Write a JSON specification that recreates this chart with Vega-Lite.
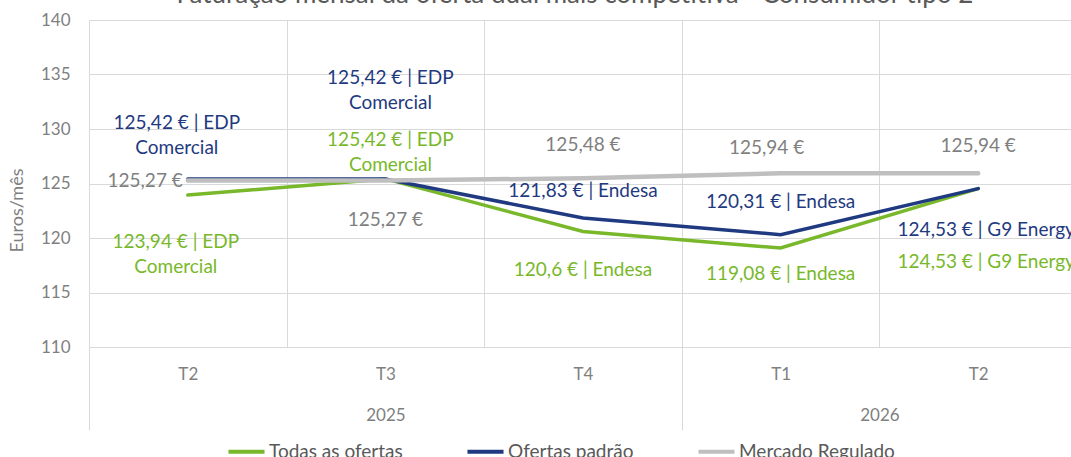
{
  "$schema": "https://vega.github.io/schema/vega-lite/v6.json",
  "width": 988,
  "height": 327,
  "autosize": {"type": "none"},
  "padding": {"left": 89, "top": 20, "right": -6, "bottom": 110},
  "title": {
    "text": "Faturação mensal da oferta dual mais competitiva - Consumidor tipo 2",
    "fontSize": 26, "font": "Lato", "fontWeight": "normal", "color": "#595959",
    "baseline": "alphabetic", "offset": 0, "anchor": "middle", "frame": "group", "dx": -8, "dy": 18
  },
  "config": {"view": {"stroke": null}, "font": "Lato"},
  "data": {
    "values": [
      {"period": "2025-T2", "series": "Todas as ofertas", "value": 123.94, "label": "123,94 € | EDP\nComercial"},
      {"period": "2025-T3", "series": "Todas as ofertas", "value": 125.42, "label": "125,42 € | EDP\nComercial"},
      {"period": "2025-T4", "series": "Todas as ofertas", "value": 120.6, "label": "120,6 € | Endesa"},
      {"period": "2026-T1", "series": "Todas as ofertas", "value": 119.08, "label": "119,08 € | Endesa"},
      {"period": "2026-T2", "series": "Todas as ofertas", "value": 124.53, "label": "124,53 € | G9 Energy"},
      {"period": "2025-T2", "series": "Ofertas padrão", "value": 125.42, "label": "125,42 € | EDP\nComercial"},
      {"period": "2025-T3", "series": "Ofertas padrão", "value": 125.42, "label": "125,42 € | EDP\nComercial"},
      {"period": "2025-T4", "series": "Ofertas padrão", "value": 121.83, "label": "121,83 € | Endesa"},
      {"period": "2026-T1", "series": "Ofertas padrão", "value": 120.31, "label": "120,31 € | Endesa"},
      {"period": "2026-T2", "series": "Ofertas padrão", "value": 124.53, "label": "124,53 € | G9 Energy"},
      {"period": "2025-T2", "series": "Mercado Regulado", "value": 125.27, "label": "125,27 €"},
      {"period": "2025-T3", "series": "Mercado Regulado", "value": 125.27, "label": "125,27 €"},
      {"period": "2025-T4", "series": "Mercado Regulado", "value": 125.48, "label": "125,48 €"},
      {"period": "2026-T1", "series": "Mercado Regulado", "value": 125.94, "label": "125,94 €"},
      {"period": "2026-T2", "series": "Mercado Regulado", "value": 125.94, "label": "125,94 €"}
    ]
  },
  "layer": [
    {
      "encoding": {
        "x": {
          "field": "period", "type": "ordinal", "bandPosition": 0.5,
          "scale": {"type": "band", "paddingInner": 0, "paddingOuter": 0},
          "axis": {
            "orient": "bottom", "title": null, "labelExpr": "substring(datum.label, 5)", "labelAngle": 0,
            "ticks": false, "domain": false, "grid": true, "tickBand": "extent",
            "gridColor": "#D9D9D9", "gridWidth": 1,
            "labelFontSize": 17, "labelColor": "#7F7F7F", "labelFont": "Lato", "labelPadding": 19
          }
        },
        "y": {
          "field": "value", "type": "quantitative",
          "scale": {"domain": [110, 140], "nice": false, "zero": false},
          "axis": {
            "values": [110, 115, 120, 125, 130, 135, 140],
            "title": "Euros/mês", "titleFont": "Lato", "titleFontSize": 18, "titleFontWeight": "normal",
            "titleColor": "#7F7F7F", "titleX": -63, "titleY": 190, "titleBaseline": "bottom",
            "ticks": false, "domain": false, "grid": true, "gridColor": "#D9D9D9", "gridWidth": 1,
            "labelFontSize": 17, "labelColor": "#7F7F7F", "labelFont": "Lato", "labelPadding": 19
          }
        }
      },
      "layer": [
        {
          "mark": {"type": "line", "strokeCap": "round"},
          "encoding": {
            "color": {
              "field": "series", "type": "nominal",
              "scale": {"domain": ["Todas as ofertas", "Ofertas padrão", "Mercado Regulado"], "range": ["#78B82A", "#1F3A80", "#BFBFBF"]},
              "legend": {
                "orient": "none", "legendX": 137, "legendY": 411, "direction": "horizontal", "title": null,
                "symbolType": "stroke", "symbolSize": 1300, "symbolStrokeWidth": 4,
                "labelFontSize": 19, "labelColor": "#595959", "labelFont": "Lato", "labelOffset": 2, "columnPadding": 56
              }
            },
            "strokeWidth": {"condition": {"test": "datum.series == 'Mercado Regulado'", "value": 4.5}, "value": 3.5}
          }
        },
        {
          "transform": [{"filter": "datum.series == 'Ofertas padrão' && datum.period == '2025-T3'"}],
          "mark": {"type": "text", "dy": -101, "dx": 5, "align": "center", "baseline": "middle", "fontSize": 19, "font": "Lato", "lineBreak": "\n", "lineHeight": 25},
          "encoding": {"text": {"field": "label"}, "color": {"value": "#1F3A80"}}
        },
        {
          "transform": [{"filter": "datum.series == 'Ofertas padrão' && datum.period == '2025-T2'"}],
          "mark": {"type": "text", "dy": -56, "dx": -11, "align": "center", "baseline": "middle", "fontSize": 19, "font": "Lato", "lineBreak": "\n", "lineHeight": 25},
          "encoding": {"text": {"field": "label"}, "color": {"value": "#1F3A80"}}
        },
        {
          "transform": [{"filter": "datum.series == 'Todas as ofertas' && datum.period == '2025-T3'"}],
          "mark": {"type": "text", "dy": -39, "dx": 5, "align": "center", "baseline": "middle", "fontSize": 19, "font": "Lato", "lineBreak": "\n", "lineHeight": 25},
          "encoding": {"text": {"field": "label"}, "color": {"value": "#78B82A"}}
        },
        {
          "transform": [{"filter": "(datum.series == 'Mercado Regulado' && datum.period == '2025-T4') || (datum.series == 'Ofertas padrão' && datum.period == '2026-T1')"}],
          "mark": {"type": "text", "dy": -33, "align": "center", "baseline": "middle", "fontSize": 19, "font": "Lato"},
          "encoding": {"text": {"field": "label"}, "color": {"condition": {"test": "datum.series == 'Ofertas padrão'", "value": "#1F3A80"}, "value": "#7F7F7F"}}
        },
        {
          "transform": [{"filter": "(datum.series == 'Ofertas padrão' && datum.period == '2025-T4') || (datum.series == 'Mercado Regulado' && datum.period == '2026-T2')"}],
          "mark": {"type": "text", "dy": -27, "align": "center", "baseline": "middle", "fontSize": 19, "font": "Lato"},
          "encoding": {"text": {"field": "label"}, "color": {"condition": {"test": "datum.series == 'Ofertas padrão'", "value": "#1F3A80"}, "value": "#7F7F7F"}}
        },
        {
          "transform": [{"filter": "datum.series == 'Mercado Regulado' && datum.period == '2026-T1'"}],
          "mark": {"type": "text", "dy": -25, "dx": -14, "align": "center", "baseline": "middle", "fontSize": 19, "font": "Lato"},
          "encoding": {"text": {"field": "label"}, "color": {"value": "#7F7F7F"}}
        },
        {
          "transform": [{"filter": "datum.series == 'Mercado Regulado' && datum.period == '2025-T2'"}],
          "mark": {"type": "text", "dy": 0, "dx": -5, "align": "right", "baseline": "middle", "fontSize": 19, "font": "Lato"},
          "encoding": {"text": {"field": "label"}, "color": {"value": "#7F7F7F"}}
        },
        {
          "transform": [{"filter": "datum.series == 'Todas as ofertas' && datum.period == '2026-T1'"}],
          "mark": {"type": "text", "dy": 26, "align": "center", "baseline": "middle", "fontSize": 19, "font": "Lato"},
          "encoding": {"text": {"field": "label"}, "color": {"value": "#78B82A"}}
        },
        {
          "transform": [{"filter": "(datum.series == 'Mercado Regulado' && datum.period == '2025-T3') || (datum.series == 'Todas as ofertas' && datum.period == '2025-T4')"}],
          "mark": {"type": "text", "dy": 39, "align": "center", "baseline": "middle", "fontSize": 19, "font": "Lato"},
          "encoding": {"text": {"field": "label"}, "color": {"condition": {"test": "datum.series == 'Todas as ofertas'", "value": "#78B82A"}, "value": "#7F7F7F"}}
        },
        {
          "transform": [{"filter": "datum.series == 'Ofertas padrão' && datum.period == '2026-T2'"}],
          "mark": {"type": "text", "dy": 41, "dx": 8, "align": "center", "baseline": "middle", "fontSize": 19, "font": "Lato"},
          "encoding": {"text": {"field": "label"}, "color": {"value": "#1F3A80"}}
        },
        {
          "transform": [{"filter": "datum.series == 'Todas as ofertas' && datum.period == '2025-T2'"}],
          "mark": {"type": "text", "dy": 47, "dx": -12, "align": "center", "baseline": "middle", "fontSize": 19, "font": "Lato", "lineBreak": "\n", "lineHeight": 25},
          "encoding": {"text": {"field": "label"}, "color": {"value": "#78B82A"}}
        },
        {
          "transform": [{"filter": "datum.series == 'Todas as ofertas' && datum.period == '2026-T2'"}],
          "mark": {"type": "text", "dy": 73, "dx": 8, "align": "center", "baseline": "middle", "fontSize": 19, "font": "Lato"},
          "encoding": {"text": {"field": "label"}, "color": {"value": "#78B82A"}}
        }
      ]
    },
    {
      "mark": {"type": "rule", "opacity": 0},
      "encoding": {
        "x": {
          "datum": 0, "type": "quantitative",
          "scale": {"domain": [0, 5], "nice": false, "zero": false},
          "axis": {
            "orient": "bottom", "values": [0, 1.5, 3, 4], "title": null, "domain": false, "grid": false,
            "ticks": true, "tickSize": 83, "tickColor": "#D9D9D9", "tickWidth": 1,
            "tickOpacity": {"condition": {"test": "datum.value == 1.5 || datum.value == 4", "value": 0}, "value": 1},
            "labelExpr": "datum.value == 1.5 ? '2025' : datum.value == 4 ? '2026' : ''",
            "labelFontSize": 17, "labelColor": "#7F7F7F", "labelFont": "Lato", "labelPadding": -23,
            "labelFlush": false, "labelOverlap": false, "offset": 0
          }
        }
      }
    }
  ],
  "resolve": {"scale": {"x": "independent"}, "axis": {"x": "independent"}}
}
